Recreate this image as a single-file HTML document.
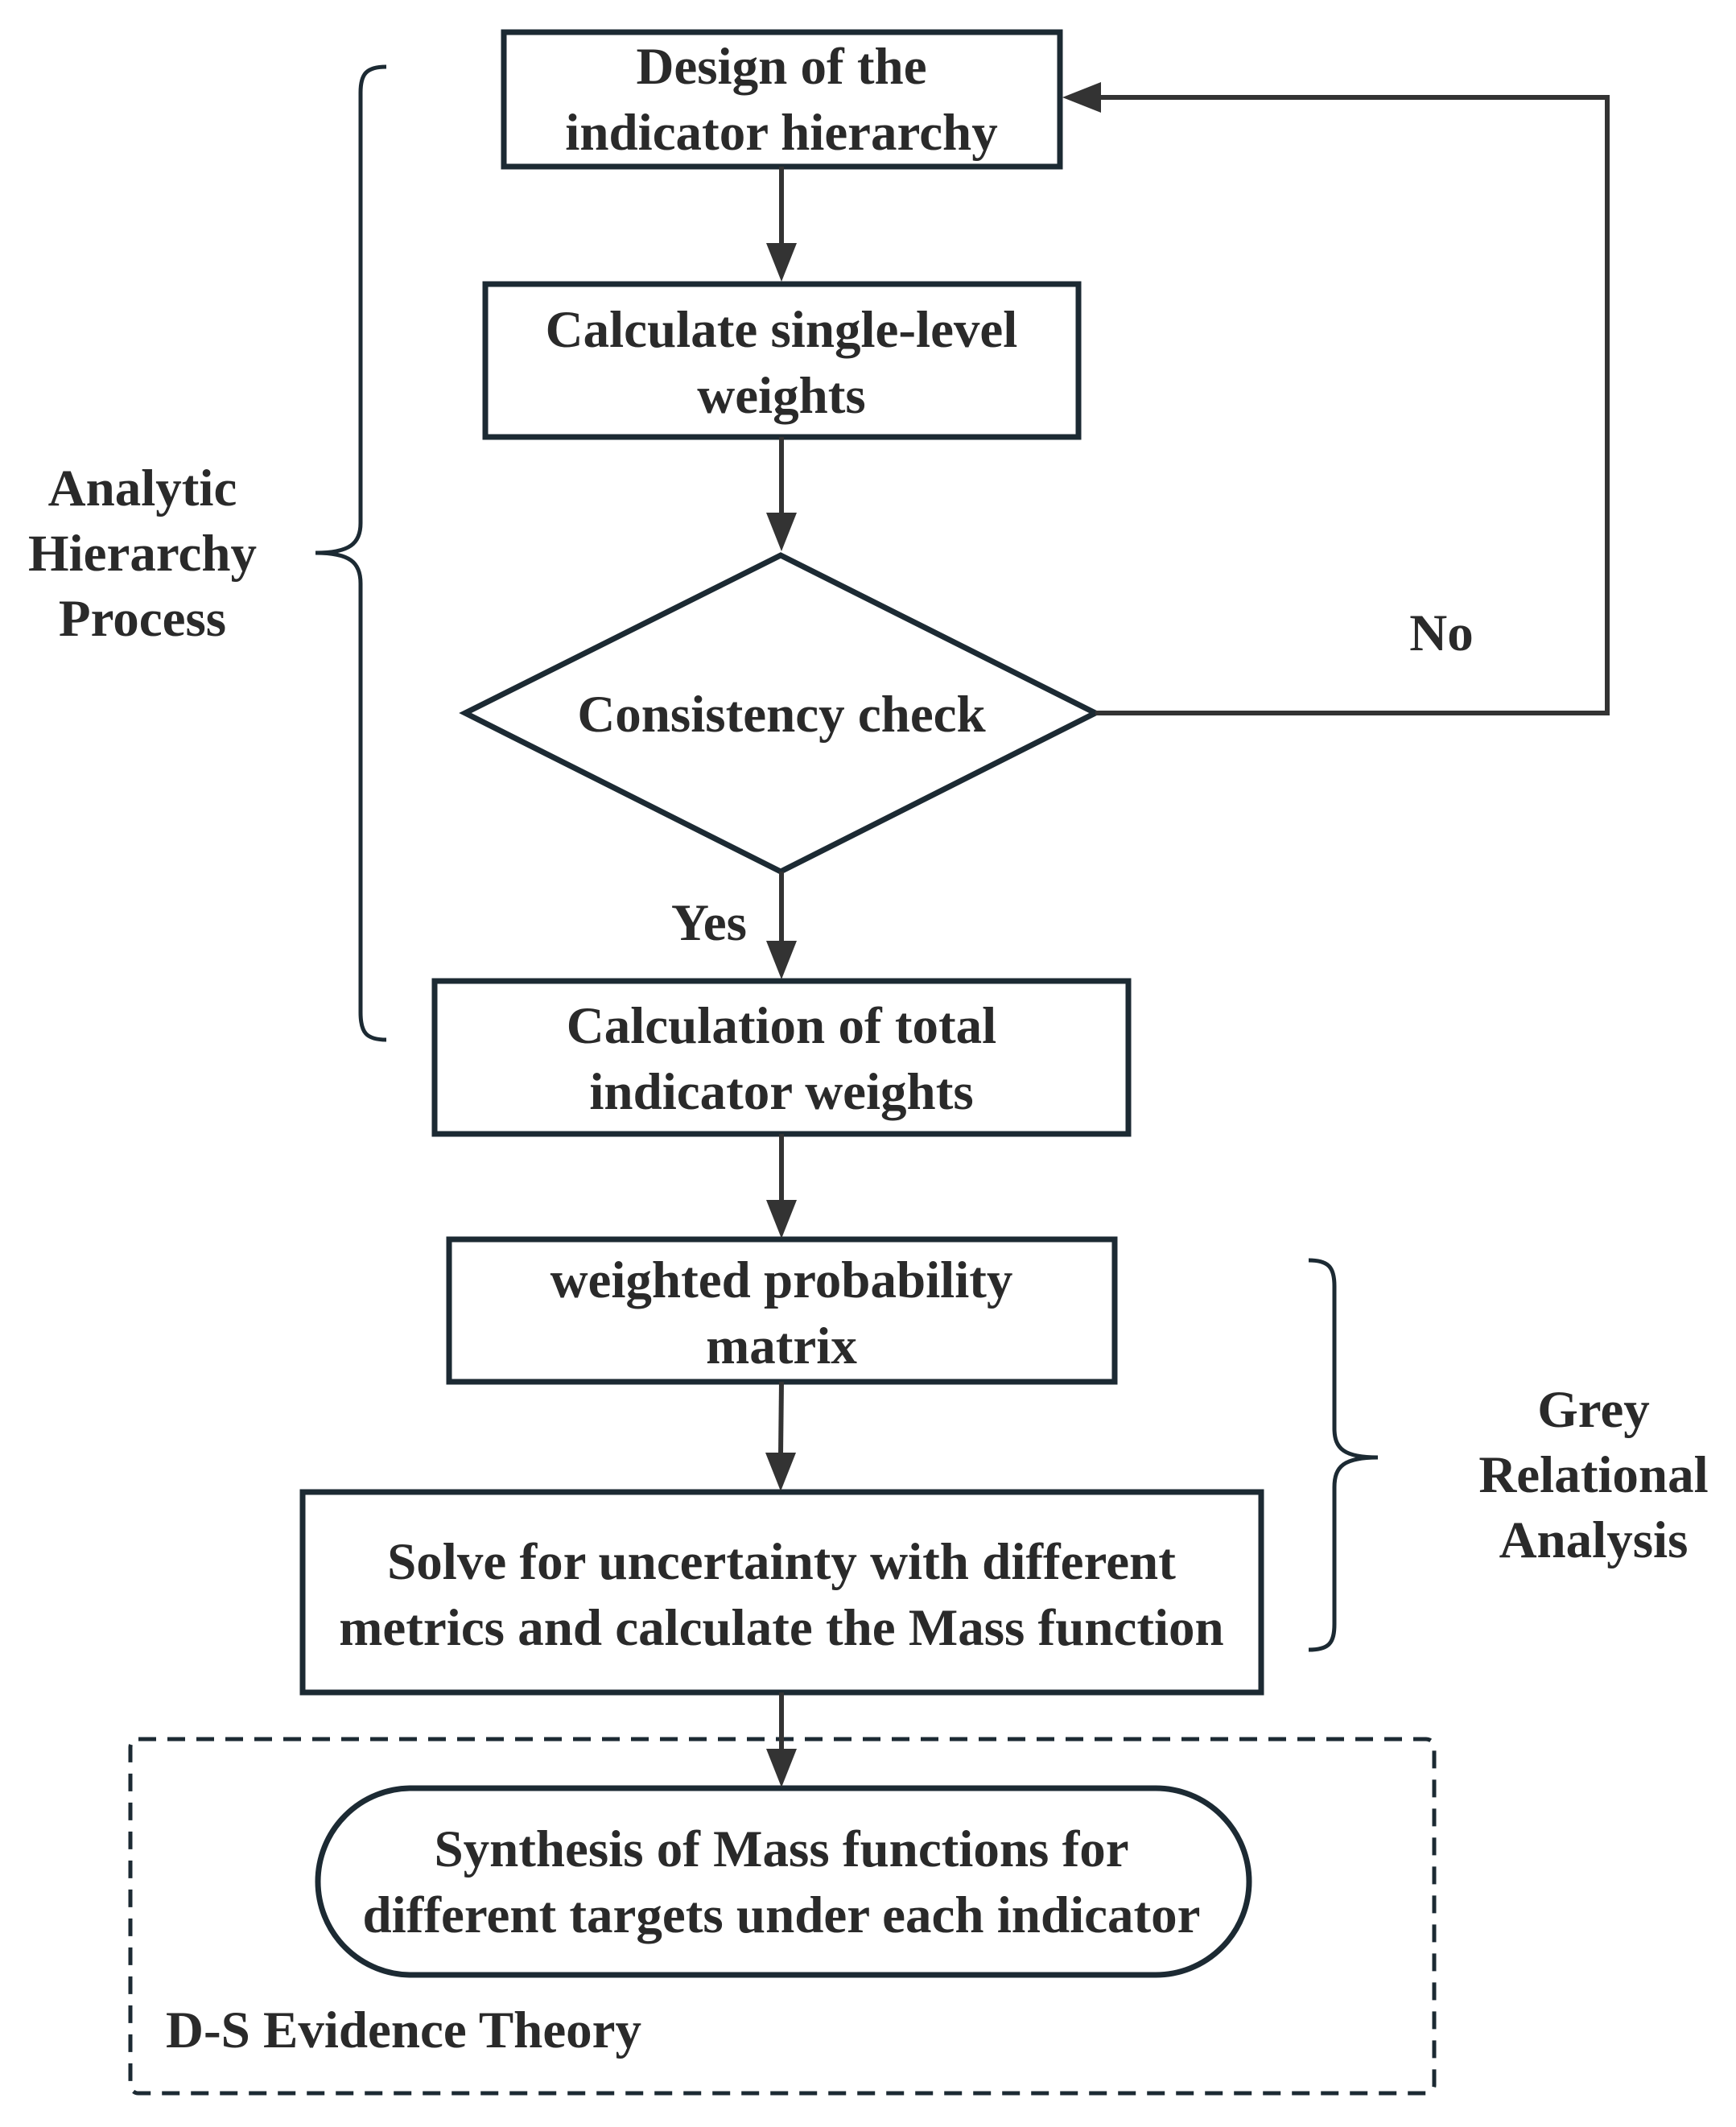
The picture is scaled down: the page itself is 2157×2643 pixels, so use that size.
<!DOCTYPE html>
<html><head><meta charset="utf-8"><style>
html,body{margin:0;padding:0;background:#fff;}
svg{display:block;}
text{font-family:"Liberation Serif","Times New Roman",Times,serif;font-weight:bold;fill:#2a2a2a;font-size:65px;text-anchor:middle;}
</style></head><body>
<svg width="2157" height="2643" viewBox="0 0 2157 2643" xmlns="http://www.w3.org/2000/svg">
<g fill="none" stroke="#1c2a33" stroke-width="7">
<rect x="626" y="40" width="691" height="167"/>
<rect x="603" y="353" width="737" height="190"/>
<polygon points="578,886 970,690 1361,886 970,1083"/>
<rect x="540" y="1219" width="862" height="190"/>
<rect x="558" y="1540" width="827" height="177"/>
<rect x="376" y="1854" width="1191" height="249"/>
<rect x="395" y="2222" width="1157" height="232" rx="116" ry="116"/>
</g>
<rect x="162" y="2161" width="1620" height="440" rx="10" fill="none" stroke="#1c2a33" stroke-width="5" stroke-dasharray="22,14"/>
<g stroke="#333" stroke-width="6" fill="none">
<line x1="971" y1="207" x2="971" y2="305"/>
<line x1="971" y1="543" x2="971" y2="640"/>
<line x1="971" y1="1083" x2="971" y2="1172"/>
<line x1="971" y1="1409" x2="971" y2="1494"/>
<line x1="971" y1="1717" x2="970" y2="1808"/>
<line x1="971" y1="2103" x2="971" y2="2176"/>
<polyline points="1361,886 1997,886 1997,121 1365,121"/>
</g>
<g fill="#333">
<polygon points="952,302 990,302 971,350"/>
<polygon points="952,637 990,637 971,685"/>
<polygon points="952,1169 990,1169 971,1217"/>
<polygon points="952,1491 990,1491 971,1539"/>
<polygon points="951,1805 989,1805 970,1853"/>
<polygon points="952,2173 990,2173 971,2221"/>
<polygon points="1368,102 1368,140 1320,121"/>
</g>
<g fill="none" stroke="#1c2a33" stroke-width="5">
<path d="M480,83 C455,83 448,92 448,115 L448,650 C448,675 435,687 392,687 C435,687 448,699 448,725 L448,1258 C448,1283 455,1292 480,1292"/>
<path d="M1626,1566 C1651,1566 1658,1575 1658,1598 L1658,1775 C1658,1800 1670,1811 1712,1811 C1670,1811 1658,1822 1658,1848 L1658,2018 C1658,2042 1651,2050 1626,2050"/>
</g>
<text x="971" y="104">Design of the</text>
<text x="971" y="186">indicator hierarchy</text>
<text x="971" y="431">Calculate single-level</text>
<text x="971" y="513">weights</text>
<text x="971" y="909">Consistency check</text>
<text x="971" y="1296">Calculation of total</text>
<text x="971" y="1378">indicator weights</text>
<text x="971" y="1612">weighted probability</text>
<text x="971" y="1694">matrix</text>
<text x="971" y="1962">Solve for uncertainty with different</text>
<text x="971" y="2044">metrics and calculate the Mass function</text>
<text x="971" y="2319">Synthesis of Mass functions for</text>
<text x="971" y="2401">different targets under each indicator</text>
<text x="177" y="628">Analytic</text>
<text x="177" y="709">Hierarchy</text>
<text x="177" y="790">Process</text>
<text x="1791" y="808">No</text>
<text x="881" y="1168">Yes</text>
<text x="1980" y="1773">Grey</text>
<text x="1980" y="1854">Relational</text>
<text x="1980" y="1935">Analysis</text>
<text x="206" y="2544" style="text-anchor:start">D-S Evidence Theory</text>
</svg>
</body></html>
